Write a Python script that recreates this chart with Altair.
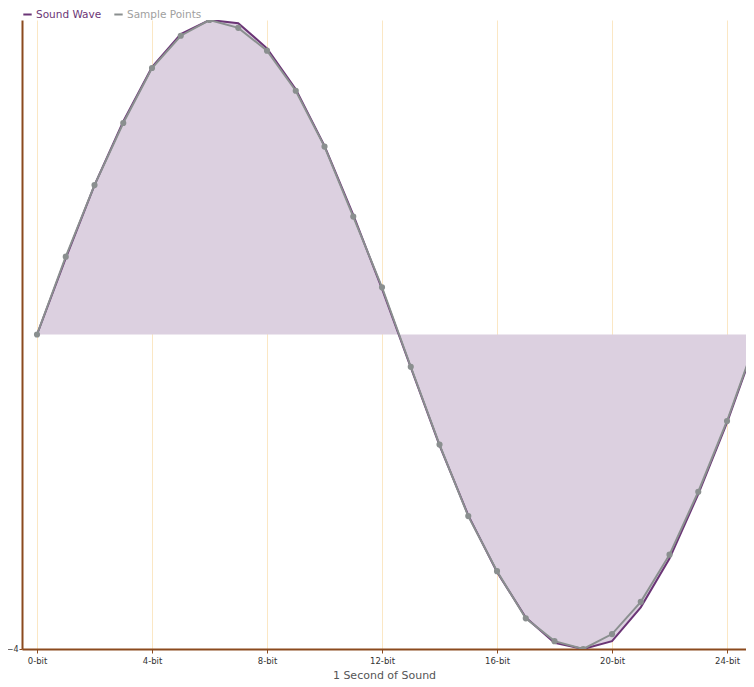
import altair as alt
import pandas as pd

bits = list(range(26))
sample_points = [0, 0.99, 1.90, 2.69, 3.39, 3.80, 4.0, 3.90, 3.61, 3.10, 2.39, 1.50, 0.60,
                 -0.41, -1.40, -2.31, -3.01, -3.61, -3.90, -4.0, -3.81, -3.40, -2.80, -2.00, -1.10, -0.08]
sound_wave = [0, 0.97, 1.90, 2.71, 3.40, 3.82, 4.0, 3.96, 3.64, 3.12, 2.40, 1.52, 0.58,
              -0.42, -1.41, -2.30, -3.02, -3.60, -3.92, -4.0, -3.90, -3.47, -2.85, -2.03, -1.12, -0.10]
series_names = ["Sound Wave", "Sample Points"]
x_ticks = [0, 4, 8, 12, 16, 20, 24]
y_ticks = [-4]

PURPLE = "#6b3576"
GRAY = "#8a8f8f"
BROWN = "#8b4a1e"
FONT = "DejaVu Sans"

df = pd.DataFrame(
    {"bit": bits * 2,
     "value": sound_wave + sample_points,
     "series": [series_names[0]] * len(bits) + [series_names[1]] * len(bits)}
)

x = alt.X("bit:Q",
          scale=alt.Scale(domain=[-0.522, 24.66], nice=False, zero=False),
          axis=alt.Axis(values=x_ticks, labelExpr="datum.value + '-bit'",
                        title="1 Second of Sound", grid=True, gridColor="#fbe7c4",
                        gridWidth=1, domainColor=BROWN, domainWidth=2,
                        tickColor=BROWN, tickSize=4, tickWidth=1,
                        labelFont=FONT, labelFontSize=8.5, labelColor="#333333",
                        labelPadding=3, titleFont=FONT, titleFontSize=11,
                        titleFontWeight="normal", titleColor="#555555", titlePadding=5))
y = alt.Y("value:Q",
          scale=alt.Scale(domain=[-4, 4], nice=False),
          axis=alt.Axis(values=y_ticks, title=None, grid=False, domainColor=BROWN,
                        domainWidth=2, tickColor=BROWN, tickSize=3,
                        labelFont=FONT, labelFontSize=8, labelColor="#333333",
                        labelPadding=1))

color = alt.Color("series:N",
                  scale=alt.Scale(domain=series_names, range=[PURPLE, GRAY]),
                  legend=alt.Legend(title=None, orient="none", legendX=0, legendY=-11,
                                    direction="horizontal", symbolType="stroke",
                                    symbolStrokeWidth=2, symbolSize=70,
                                    labelFont=FONT, labelFontSize=10.5,
                                    labelColor={"expr": "datum.label === 'Sound Wave' ? '#6b3576' : '#a0a0a0'"},
                                    columnPadding=8, labelOffset=3, padding=0))

base = alt.Chart(df).encode(x=x, y=y)

area = base.transform_filter(alt.datum.series == "Sound Wave").mark_area(
    color="#dcd0e0", opacity=1, clip=True).encode(y2=alt.datum(0))

wave_line = base.transform_filter(alt.datum.series == "Sound Wave").mark_line(
    strokeWidth=2, clip=True).encode(color=color)

sample_line = base.transform_filter(alt.datum.series == "Sample Points").mark_line(
    strokeWidth=2, clip=True).encode(color=color)

points = base.transform_filter(alt.datum.series == "Sample Points").mark_circle(
    size=38, color=GRAY, opacity=1, clip=True)

chart = alt.layer(area, wave_line, sample_line, points).properties(
    width=724, height=629,
    background="white",
    autosize=alt.AutoSizeParams(type="none"),
    padding={"left": 14, "top": 12, "right": 0, "bottom": 38},
).configure_view(strokeWidth=0, stroke="transparent")

chart.save("out.html", embed_options={"renderer": "svg", "actions": False})
